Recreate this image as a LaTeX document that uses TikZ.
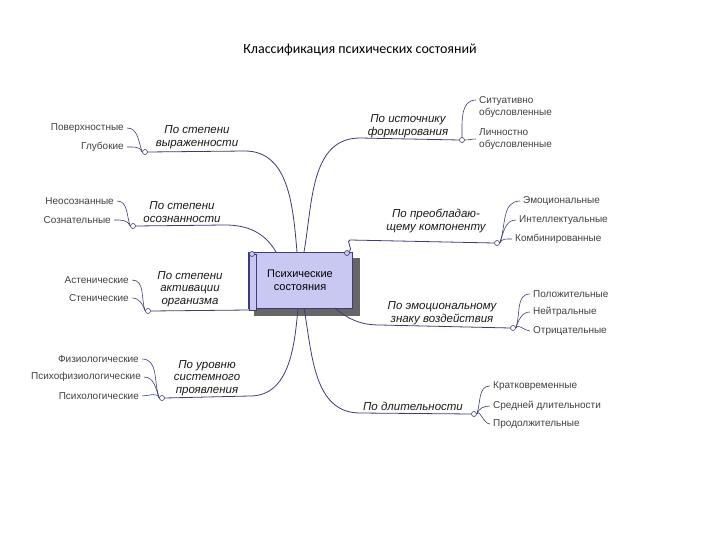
\documentclass[tikz,border=0pt]{standalone}
\usepackage{fontspec}
\setmainfont{Liberation Sans}
\newfontfamily\titlefont{Carlito}
\begin{document}
\begin{tikzpicture}[x=1pt,y=-1pt,
  ln/.style={draw=linec,line width=0.8pt},
  br/.style={font=\fontsize{11.5}{12.5}\selectfont\itshape, align=center, inner sep=1pt, text=black!90},
  itl/.style={font=\fontsize{10}{11.5}\selectfont, anchor=east, inner sep=1pt, text=black!75},
  itr/.style={font=\fontsize{10}{11.5}\selectfont, anchor=west, inner sep=1pt, text=black!75, align=left},
  cir/.style={circle, draw=linec, fill=white, inner sep=0pt, minimum size=5pt, line width=0.6pt}]
\definecolor{linec}{HTML}{3C3C78}
\definecolor{boxc}{HTML}{C8C8F2}
\useasboundingbox (0,0) rectangle (720,540);
\node[font=\titlefont\fontsize{14}{15}\selectfont] (title) at (360,50) {Классификация психических состояний};
% central
\fill[black!60] (254,258) rectangle (360,316);
\node[draw=linec, fill=boxc, minimum width=104pt, minimum height=56pt, line width=0.7pt, align=center,
  font=\fontsize{11}{13}\selectfont, inner sep=2pt] (c) at (300,280) {Психические\\состояния};
\draw[linec, fill=boxc, line width=0.6pt] (249,254) rectangle (256,310);
\node[cir, fill=boxc] (cc1) at (252,254) {};
\node[cir, fill=boxc] (cc2) at (347,253) {};
% branch labels
\node[br] (b1) at (197,137) {По степени\\выраженности};
\node[br] (b2) at (182,212) {По степени\\осознанности};
\node[br] (b3) at (190,289) {По степени\\активации\\организма};
\node[br] (b4) at (207,378) {По уровню\\системного\\проявления};
\node[br] (b5) at (408,126) {По источнику\\формирования};
\node[br] (b6) at (436,221) {По преобладаю-\\щему компоненту};
\node[br] (b7) at (442,313) {По эмоциональному\\знаку воздействия};
\node[br] (b8) at (413,406) {По длительности};
% circles
\node[cir] (k1) at (145,152) {};
\node[cir] (k2) at (133,226) {};
\node[cir] (k3) at (148,311) {};
\node[cir] (k4) at (162,398) {};
\node[cir] (k5) at (462,140) {};
\node[cir] (k6) at (497,243) {};
\node[cir] (k7) at (513,328) {};
\node[cir] (k8) at (474,414) {};
% underlines + curves to center
\coordinate (e1) at (245,151); \coordinate (e2) at (225,225); \coordinate (e3) at (249,310);
\coordinate (e4) at (250,396); \coordinate (e5) at (360,138); \coordinate (e6) at (350,240);
\coordinate (e7) at (380,325); \coordinate (e8) at (360,413);
\draw[ln] (k1.east) -- (e1) to[out=0,in=95] (297,252);
\draw[ln] (k2.east) -- (e2) to[out=0,in=120] (276,252);
\draw[ln] (k3.east) -- (e3);
\draw[ln] (k4.east) -- (e4) to[out=0,in=-95] (298,308);
\draw[ln] (k5.west) -- (e5) to[out=180,in=80] (304,252);
\draw[ln] (k6.west) -- (e6) to[out=180,in=30] (cc2);
\draw[ln] (k7.west) -- (e7) to[out=180,in=-40] (335,308);
\draw[ln] (k8.west) -- (e8) to[out=180,in=-80] (304,308);
% items left
\node[itl] (i11) at (125,128) {Поверхностные};
\node[itl] (i12) at (125,147) {Глубокие};
\node[itl] (i21) at (115,201) {Неосознанные};
\node[itl] (i22) at (112,220) {Сознательные};
\node[itl] (i31) at (130,280) {Астенические};
\node[itl] (i32) at (130,298) {Стенические};
\node[itl] (i41) at (140,359) {Физиологические};
\node[itl] (i42) at (142,377) {Психофизиологические};
\node[itl] (i43) at (140,396) {Психологические};
\foreach \k/\i in {k1/i11,k1/i12,k2/i21,k2/i22,k3/i31,k3/i32,k4/i41,k4/i42,k4/i43}
  \draw[ln, line width=0.6pt] (\k.west) to[out=110,in=0] ([xshift=2pt]\i.east);
% items right
\node[itr] (i51) at (478,107) {Ситуативно\\обусловленные};
\node[itr] (i52) at (478,139) {Личностно\\обусловленные};
\node[itr] (i61) at (522,201) {Эмоциональные};
\node[itr] (i62) at (518,220) {Интеллектуальные};
\node[itr] (i63) at (514,239) {Комбинированные};
\node[itr] (i71) at (532,294) {Положительные};
\node[itr] (i72) at (532,312) {Нейтральные};
\node[itr] (i73) at (532,331) {Отрицательные};
\node[itr] (i81) at (492,386) {Кратковременные};
\node[itr] (i82) at (492,406) {Средней длительности};
\node[itr] (i83) at (492,424) {Продолжительные};
\draw[ln, line width=0.6pt] (k5.north) to[out=90,in=180] (476,100);
\draw[ln, line width=0.6pt] (k5.east) to[out=0,in=180] (476,139);
\foreach \k/\i in {k6/i61,k6/i62,k6/i63,k7/i71,k7/i72,k7/i73,k8/i81,k8/i82,k8/i83}
  \draw[ln, line width=0.6pt] (\k.east) to[out=70,in=180] ([xshift=-2pt]\i.west);
\end{tikzpicture}
\end{document}
